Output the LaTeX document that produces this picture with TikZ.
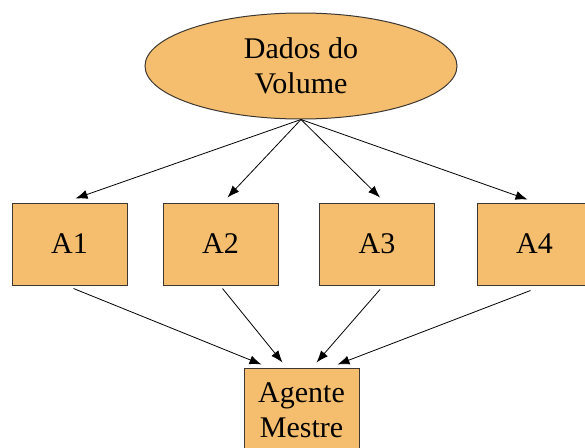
\documentclass[tikz,border=0pt]{standalone}
\usepackage{fontspec}
\setmainfont{Liberation Serif}
\usetikzlibrary{shapes.geometric,arrows.meta}
\definecolor{boxfill}{RGB}{245,190,110}
\definecolor{boxline}{RGB}{60,55,50}
\begin{document}
\begin{tikzpicture}[x=1pt,y=-1pt,
  every node/.style={font=\fontsize{30}{35}\selectfont, align=center, inner sep=0pt},
  agent/.style={draw=boxline, line width=1pt, fill=boxfill, minimum width=115pt, minimum height=82pt},
  blob/.style={ellipse, draw=boxline, line width=1pt, fill=boxfill, minimum width=312pt, minimum height=106pt},
  conn/.style={draw=black, line width=0.8pt, -{Latex[length=12pt,width=9pt]}}]
\useasboundingbox (0,0) rectangle (585,447);
\clip (0,0) rectangle (585,447);
\node[blob] (E) at (301,66) {Dados do\\Volume};
\node[agent] (A1) at (69.5,244) {A1};
\node[agent] (A2) at (220.5,244) {A2};
\node[agent] (A3) at (377,244) {A3};
\node[agent] (A4) at (534.5,244) {A4};
\node[agent, minimum height=84pt] (M) at (301.5,410) {Agente\\Mestre};
\coordinate (S) at (E.south);
\draw[conn] (S) -- ([shift={(6,-4)}]A1.north);
\draw[conn] (S) -- ([shift={(7,-5)}]A2.north);
\draw[conn] (S) -- ([shift={(3,-5)}]A3.north);
\draw[conn] (S) -- ([shift={(-7,-3)}]A4.north);
\draw[conn] ([shift={(4,3)}]A1.south) -- ([shift={(-40,-3)}]M.north);
\draw[conn] ([shift={(2,3)}]A2.south) -- ([shift={(-19,-5)}]M.north);
\draw[conn] ([shift={(3,4)}]A3.south) -- ([shift={(15,-5)}]M.north);
\draw[conn] ([shift={(-4,5)}]A4.south) -- ([shift={(36,-3)}]M.north);
\end{tikzpicture}
\end{document}
